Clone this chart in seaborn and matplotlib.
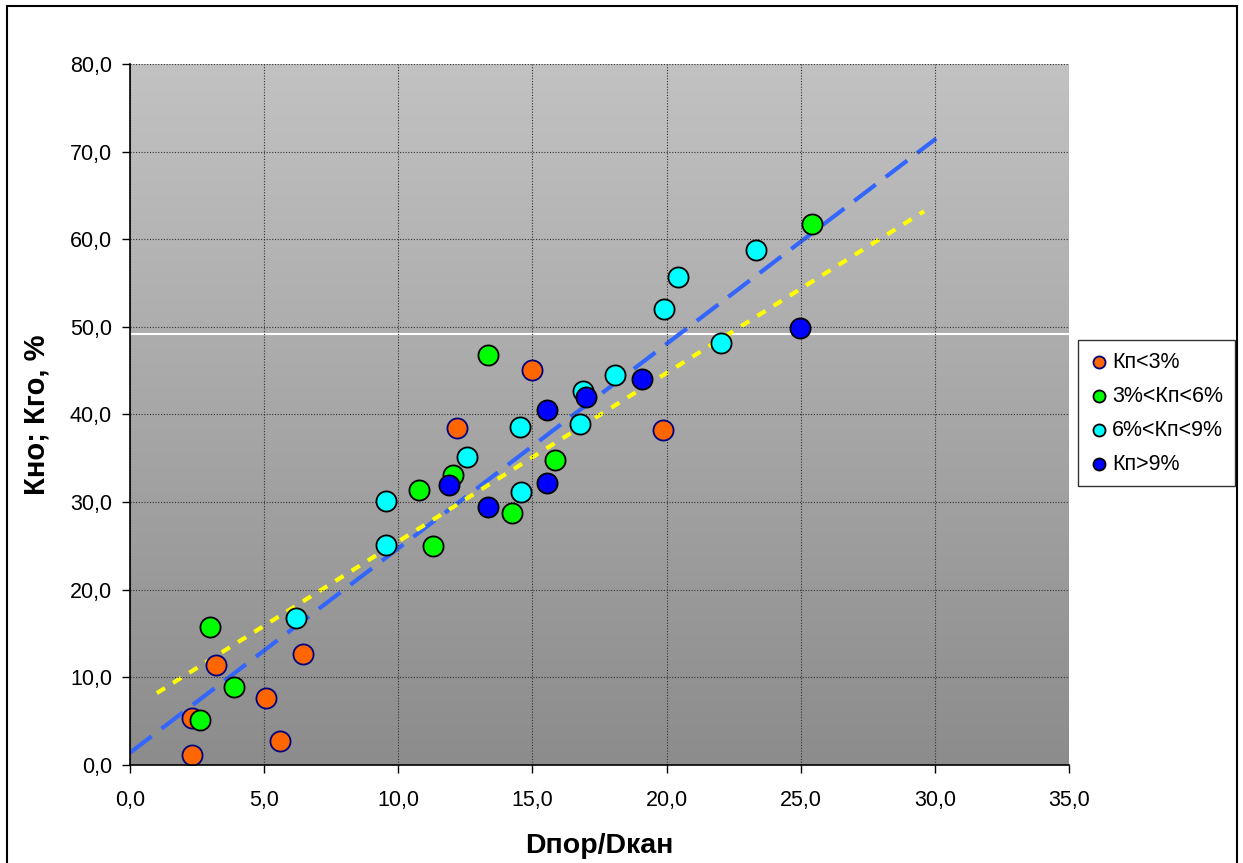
import numpy as np
import pandas as pd
import matplotlib
matplotlib.use("Agg")
import matplotlib.pyplot as plt
import seaborn as sns
from matplotlib.patches import Rectangle
from matplotlib.colors import LinearSegmentedColormap

# ---- data ----
g1_x = [2.31, 2.31, 3.20, 5.07, 5.59, 6.45, 12.19, 14.98, 19.87]
g1_y = [5.36, 1.14, 11.40, 7.65, 2.74, 12.67, 38.46, 45.08, 38.23]
g2_x = [2.98, 2.61, 3.88, 10.77, 11.29, 12.05, 13.34, 14.24, 15.84, 25.42]
g2_y = [15.75, 5.14, 8.90, 31.38, 24.99, 33.10, 46.79, 28.76, 34.81, 61.74]
g3_x = [6.19, 9.54, 9.54, 12.56, 14.54, 14.57, 16.77, 16.88, 18.08, 19.90, 20.42, 22.03, 23.33]
g3_y = [16.78, 30.13, 25.10, 35.15, 38.57, 31.16, 38.92, 42.68, 44.50, 52.04, 55.69, 48.16, 58.77]
g4_x = [11.89, 13.34, 15.54, 15.54, 17.00, 19.08, 24.97]
g4_y = [31.95, 29.44, 40.51, 32.18, 42.00, 44.05, 49.87]
labels = ["Кп<3%", "3%<Кп<6%", "6%<Кп<9%", "Кп>9%"]
trend1_x = [0.0, 30.05]
trend1_y = [1.4, 71.5]
trend2_x = [1.0, 29.6]
trend2_y = [8.2, 63.2]
hline_y = 49.2
xticks = [0, 5, 10, 15, 20, 25, 30, 35]
yticks = [0, 10, 20, 30, 40, 50, 60, 70, 80]

sns.set_theme(style="white")
plt.rcParams['font.family'] = ['Liberation Sans', 'DejaVu Sans']
plt.rcParams['text.color'] = 'black'
plt.rcParams['axes.labelcolor'] = 'black'
plt.rcParams['xtick.color'] = 'black'
plt.rcParams['ytick.color'] = 'black'

fig = plt.figure(figsize=(12.43, 8.63), dpi=100)
fig.patches.append(Rectangle((0.0056, -0.02), 0.9894, 1.0130, transform=fig.transFigure,
                             fill=False, edgecolor='black', linewidth=1.5, zorder=0))
ax = fig.add_axes([0.1046, 0.1136, 0.7554, 0.8122])

# gradient background
grad = np.linspace(0, 1, 256).reshape(-1, 1)
cmap = LinearSegmentedColormap.from_list("bg", ["#8c8c8c", "#c2c2c2"])
ax.imshow(grad, extent=[0, 1, 0, 1], transform=ax.transAxes, cmap=cmap,
          origin='lower', aspect='auto', zorder=0)

ax.set_xlim(0, 35)
ax.set_ylim(0, 80)
ax.set_xticks(xticks)
ax.set_yticks(yticks)
ax.set_xticklabels([f"{v:.1f}".replace('.', ',') for v in xticks], fontsize=15.5)
ax.set_yticklabels([f"{v:.1f}".replace('.', ',') for v in yticks], fontsize=15.5)
ax.grid(True, color='#333333', linestyle=(0, (1, 1.5)), linewidth=0.8, zorder=1)
ax.set_axisbelow(False)
for s in ['top', 'right']:
    ax.spines[s].set_visible(False)
for s in ['left', 'bottom']:
    ax.spines[s].set_color('black')
    ax.spines[s].set_linewidth(1.2)
    ax.spines[s].set_zorder(5)
ax.tick_params(axis='y', direction='out', length=6, width=1, left=True, pad=7)
ax.tick_params(axis='x', direction='out', length=6, width=1, bottom=True, pad=12)

ax.axhline(hline_y, color='white', linewidth=1.5, zorder=1.5)

ax.plot(trend1_x, trend1_y, color='#3366ff', linewidth=3, dashes=(6.5, 3), zorder=2)
ax.plot(trend2_x, trend2_y, color='#ffff00', linewidth=3, dashes=(2.3, 2.3), zorder=2)

groups = [(g1_x, g1_y, '#ff6600', '#000080'),
          (g2_x, g2_y, '#00ff00', '#000000'),
          (g3_x, g3_y, '#00ffff', '#000000'),
          (g4_x, g4_y, '#0000ff', '#000000')]
for (gx, gy, fc, ec), lab in zip(groups, labels):
    df = pd.DataFrame({"x": gx, "y": gy})
    sns.scatterplot(data=df, x="x", y="y", ax=ax, color=fc, edgecolor=ec,
                    linewidth=1.3, s=210, label=lab, zorder=3)

ax.set_xlabel("Dпор/Dкан", fontsize=20.5, fontweight='bold', labelpad=16)
ax.set_ylabel("Кно; Кго, %", fontsize=21, fontweight='bold', labelpad=14)

leg = ax.legend(loc='upper left', bbox_to_anchor=(0.867, 0.606), bbox_transform=fig.transFigure,
                fontsize=15.5, frameon=True, fancybox=False, edgecolor='black',
                handletextpad=0.15, borderpad=0.55, labelspacing=0.6, handlelength=0.9,
                borderaxespad=0, markerscale=0.6)
leg.get_frame().set_linewidth(1.0)
leg.get_frame().set_facecolor('white')

fig.savefig("out.png", dpi=100)
